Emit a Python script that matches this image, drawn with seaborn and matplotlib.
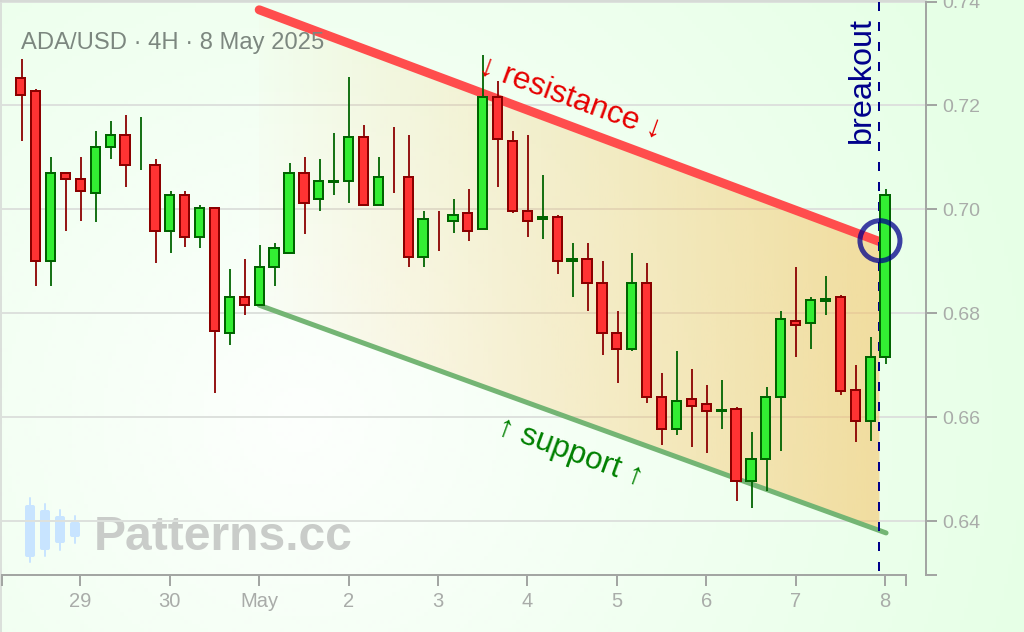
import matplotlib
matplotlib.use('Agg')
import matplotlib.pyplot as plt
from matplotlib.patches import FancyBboxPatch, Polygon
import numpy as np
import pandas as pd
import seaborn as sns

# ohlc, one candle per 4h. nan open/close = wick only
opens = [0.7252, 0.7228, 0.6900, 0.7071, 0.7059, 0.7031, 0.7120, 0.7144, np.nan, 0.7086,
         0.6958, 0.7028, 0.6947, 0.7002, 0.6762, 0.6832, 0.6816, 0.6889, 0.6916, 0.7071,
         0.7020, 0.7052, 0.7054, 0.7140, 0.7008, np.nan, 0.7063, 0.6908, np.nan, 0.6977,
         0.6994, 0.6962, 0.7217, 0.7132, 0.6998, 0.6982, 0.6986, 0.6901, 0.6905, 0.6859,
         0.6763, 0.6731, 0.6859, 0.6640, 0.6577, 0.6636, 0.6625, 0.6612, 0.6617, 0.6477,
         0.6520, 0.6639, 0.6786, 0.6781, 0.6824, 0.6832, 0.6652, 0.6593, 0.6716]
highs = [0.7289, 0.7231, 0.7100, 0.7073, 0.7100, 0.7150, 0.7170, 0.7181, 0.7177, 0.7097,
         0.7035, 0.7035, 0.7008, 0.7004, 0.6885, 0.6904, 0.6931, 0.6935, 0.7089, 0.7100,
         0.7097, 0.7147, 0.7254, 0.7162, 0.7100, 0.7158, 0.7143, 0.6997, 0.6997, 0.7020,
         0.7039, 0.7297, 0.7247, 0.7150, 0.7143, 0.7066, 0.6989, 0.6935, 0.6935, 0.6900,
         0.6804, 0.6916, 0.6897, 0.6685, 0.6727, 0.6693, 0.6662, 0.6673, 0.6620, 0.6573,
         0.6658, 0.6804, 0.6889, 0.6831, 0.6873, 0.6835, 0.6700, 0.6754, 0.7039]
lows = [0.7132, 0.6852, 0.6852, 0.6959, 0.6978, 0.6975, 0.7098, 0.7044, 0.7075, 0.6898,
        0.6917, 0.6928, 0.6925, 0.6648, 0.6740, 0.6798, 0.6816, 0.6852, 0.6916, 0.6952,
        0.6998, 0.7028, 0.7013, 0.7008, 0.7008, 0.7032, 0.6890, 0.6890, 0.6921, 0.6955,
        0.6940, 0.6962, 0.7044, 0.6994, 0.6948, 0.6944, 0.6875, 0.6832, 0.6805, 0.6721,
        0.6667, 0.6728, 0.6628, 0.6548, 0.6567, 0.6544, 0.6532, 0.6578, 0.6440, 0.6425,
        0.6459, 0.6536, 0.6717, 0.6732, 0.6798, 0.6644, 0.6552, 0.6555, 0.6702]
closes = [0.7220, 0.6900, 0.7071, 0.7058, 0.7035, 0.7121, 0.7144, 0.7085, np.nan, 0.6958,
          0.7028, 0.6947, 0.7002, 0.6766, 0.6832, 0.6816, 0.6890, 0.6925, 0.7071, 0.7012,
          0.7055, 0.7055, 0.7140, 0.7008, 0.7063, np.nan, 0.6908, 0.6982, np.nan, 0.6990,
          0.6958, 0.7217, 0.7135, 0.6997, 0.6977, 0.6985, 0.6900, 0.6904, 0.6858, 0.6762,
          0.6731, 0.6859, 0.6639, 0.6577, 0.6632, 0.6623, 0.6612, 0.6615, 0.6477, 0.6521,
          0.6640, 0.6790, 0.6777, 0.6825, 0.6827, 0.6650, 0.6593, 0.6717, 0.7028]
# wick only candles have no body, so colour cant come from open/close
wick_only_up = [8]

day_ticks = [4, 10, 16, 22, 28, 34, 40, 46, 52, 58]
day_labels = ['29', '30', 'May', '2', '3', '4', '5', '6', '7', '8']
price_ticks = [0.64, 0.66, 0.68, 0.70, 0.72, 0.74]
price_labels = ['0.64', '0.66', '0.68', '0.70', '0.72', '0.74']

channel_x = [16, 57.66]
resistance = [0.7384, 0.6938]
support_x = [16, 58.07]
support = [0.6816, 0.6378]
breakout_x = 57.62
breakout_y = 0.6940

UP, DOWN = '#33ee33', '#ff3333'
UP_EDGE, DOWN_EDGE = '#006400', '#8b0000'
AXIS = '#a3a6a3'
TEXT = '#a9aca9'
PX = 0.72  # one pixel in points at dpi 100

sns.set_theme(style='white')
plt.rcParams['font.family'] = ['Liberation Sans', 'DejaVu Sans']

fig = plt.figure(figsize=(10.24, 6.32), dpi=100)

# pixel canvas behind everything: page gradient, watermark
bg = fig.add_axes([0, 0, 1, 1], zorder=0)
bg.set_xlim(0, 1024)
bg.set_ylim(632, 0)
bg.axis('off')
yy, xx = np.mgrid[0:632:158j, 0:1024:256j]
dist = np.clip(np.hypot(xx - 300, yy - 420) / 760, 0, 1)[..., None]
page = (1 - dist) * np.array([253, 255, 253]) + dist * np.array([230, 255, 230])
bg.imshow(page.astype(np.uint8), extent=(0, 1024, 632, 0), aspect='auto', zorder=0)
bg.plot([0, 926], [0.8, 0.8], color='#d6dad6', lw=2 * PX, zorder=1)
bg.plot([0.7, 0.7], [0, 632], color='#d4d6d4', lw=1.5 * PX, zorder=1)

# logo candles + name
for cx, wick_top, wick_bot, top, bot in [(30, 498, 562, 505, 557), (45, 504, 556, 510, 550),
                                         (60, 510, 550, 516, 543), (75, 516, 543, 522, 537)]:
    bg.plot([cx, cx], [wick_top, wick_bot], color='#c8e4ff', lw=2 * PX, zorder=2)
    bg.add_patch(FancyBboxPatch((cx - 4, top + 1), 8, bot - top - 2, boxstyle='round,pad=1,rounding_size=2',
                                fc='#c8e4ff', ec='none', zorder=2))
bg.text(94, 550, 'Patterns.cc', fontsize=34.6, fontweight='bold', color='#c9ccc9', va='baseline', zorder=3)

ax = fig.add_axes([2 / 1024, 1 - 575 / 632, 924 / 1024, 573.5 / 632], zorder=1)
ax.patch.set_alpha(0)
x_min, x_max = -1.262, 60.75
y_min, y_max = 0.62971, 0.74

i = np.arange(len(opens))
candles = pd.DataFrame({'i': i, 'open': opens, 'high': highs, 'low': lows, 'close': closes})
candles['up'] = candles['close'] > candles['open']
candles.loc[wick_only_up, 'up'] = True

# channel fill fades in to the right
fill_end = breakout_x
poly = Polygon([(channel_x[0], resistance[0]),
                (fill_end, np.interp(fill_end, channel_x, resistance)),
                (fill_end, np.interp(fill_end, support_x, support)),
                (support_x[0], support[0])], transform=ax.transData, fc='none', ec='none')
ax.add_patch(poly)
fade = np.zeros((1, 256, 4))
fade[..., :3] = np.array([248, 190, 90]) / 255
fade[..., 3] = np.linspace(0.02, 0.52, 256)
im = ax.imshow(fade, extent=(channel_x[0], fill_end, y_min, y_max), aspect='auto', zorder=2)
im.set_clip_path(poly)

res_df = pd.DataFrame({'x': channel_x, 'y': resistance})
sup_df = pd.DataFrame({'x': support_x, 'y': support})
sns.lineplot(data=res_df, x='x', y='y', color='#ff4d4d', lw=9 * PX, solid_capstyle='round', zorder=3, ax=ax)
sns.lineplot(data=sup_df, x='x', y='y', color='#74b574', lw=5 * PX, solid_capstyle='round', zorder=3, ax=ax)
ax.plot([breakout_x, breakout_x], [y_max, 0.6305], color='#00008b', lw=2 * PX, dashes=(4.5, 5.5), zorder=3.5)

# wicks, slightly right of body like the original
wicks = pd.concat([candles.assign(price=candles['high']), candles.assign(price=candles['low'])])
wicks['pos'] = wicks['i'] + 0.05
sns.lineplot(data=wicks, x='pos', y='price', units='i', hue='up', estimator=None,
             palette={True: UP_EDGE, False: DOWN_EDGE}, legend=False, lw=1.8 * PX,
             solid_capstyle='butt', zorder=4, ax=ax)

body = candles.dropna(subset=['open'])
ax.bar(body['i'], (body['close'] - body['open']).abs(), bottom=body[['open', 'close']].min(axis=1), width=0.62,
       color=[UP if u else DOWN for u in body['up']],
       edgecolor=[UP_EDGE if u else DOWN_EDGE for u in body['up']], linewidth=2 * PX, zorder=5)

ax.scatter([57.66], [breakout_y], s=(40 * PX) ** 2, facecolors='none', edgecolors='#00008b', alpha=0.75,
           linewidths=5 * PX, zorder=6, clip_on=False)

ax.set_xlim(x_min, x_max)
ax.set_ylim(y_min, y_max)
ax.set_xlabel('')
ax.set_ylabel('')

ax.set_xticks(day_ticks, day_labels)
ax.set_xticks([x_min, 59.41], minor=True)
ax.yaxis.tick_right()
ax.set_yticks(price_ticks, price_labels)
ax.set_yticks([y_min], minor=True)
ax.tick_params(axis='both', which='both', length=10.7 * PX, width=2 * PX, color=AXIS, bottom=True, right=True)
ax.tick_params(axis='x', which='major', labelsize=14.5, labelcolor=TEXT, pad=4.5)
ax.tick_params(axis='y', which='major', labelsize=14, labelcolor=TEXT, pad=4)
ax.grid(axis='y', which='major', color='#dde1dd', lw=2 * PX, zorder=1)
ax.grid(axis='x', visible=False)
ax.set_axisbelow(True)

for side in ['left', 'top']:
    ax.spines[side].set_visible(False)
for side in ['right', 'bottom']:
    ax.spines[side].set_color(AXIS)
    ax.spines[side].set_linewidth(2 * PX)
ax.spines['bottom'].set_bounds(x_min, 59.41)

# labels sit on the pixel canvas coords but above the chart
ax.text(21, 49, 'ADA/USD · 4H · 8 May 2025', transform=bg.transData, fontsize=17.1, color='#7c877f',
        va='baseline', zorder=7, clip_on=False)
ax.text(571, 98, '↓ resistance ↓', transform=bg.transData, fontsize=22.8, color='#e60000', rotation=-20,
        rotation_mode='anchor', ha='center', va='center', zorder=7)
ax.text(570, 452, '↑ support ↑', transform=bg.transData, fontsize=22.6, color='#008000', rotation=-20,
        rotation_mode='anchor', ha='center', va='center', zorder=7)
ax.text(862, 80, 'breakout', transform=bg.transData, fontsize=23.3, color='#00008b', rotation=90,
        ha='center', va='center', zorder=7)

fig.savefig('out.png', dpi=100)
